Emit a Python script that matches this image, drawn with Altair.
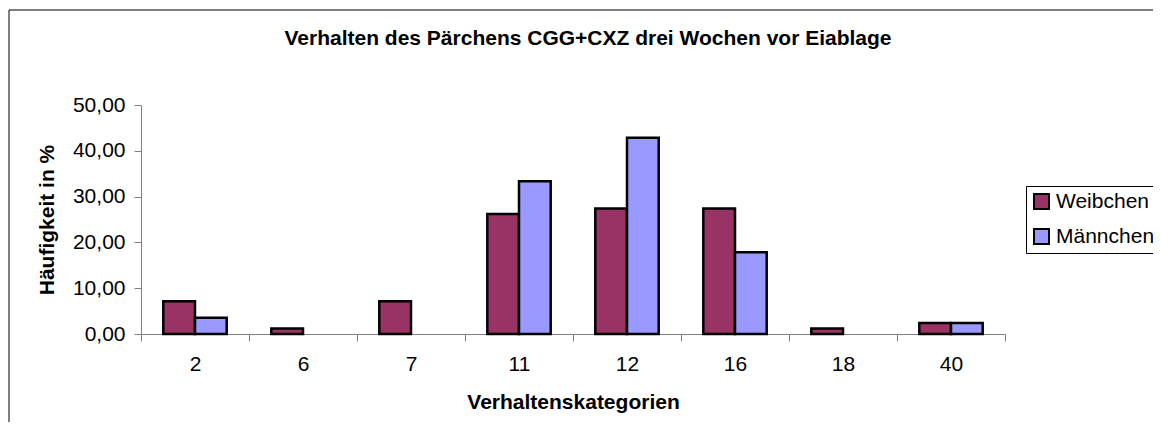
import altair as alt
import pandas as pd

categories = ["2", "6", "7", "11", "12", "16", "18", "40"]
weibchen = [7.14, 1.19, 7.14, 26.19, 27.38, 27.38, 1.19, 2.38]
maennchen = [3.57, 0.0, 0.0, 33.33, 42.86, 17.86, 0.0, 2.38]
series = ["Weibchen", "Männchen"]
colors = ["#993366", "#9999FF"]

rows = []
for c, w, m in zip(categories, weibchen, maennchen):
    rows.append({"kat": c, "serie": "Weibchen", "wert": w})
    rows.append({"kat": c, "serie": "Männchen", "wert": m})
df = pd.DataFrame(rows)

FONT = "Liberation Sans"

bars = alt.Chart(df).transform_filter("datum.wert > 0").mark_bar(
    stroke="black", strokeWidth=2.5
).encode(
    x=alt.X("kat:N", sort=categories,
            scale=alt.Scale(paddingInner=0, paddingOuter=0),
            axis=alt.Axis(title="Verhaltenskategorien", labelAngle=0,
                          tickBand="extent", tickSize=7, labelPadding=12,
                          titlePadding=17)),
    xOffset=alt.XOffset("serie:N", sort=series,
                        scale=alt.Scale(domain=series, paddingOuter=0.7035, paddingInner=0)),
    y=alt.Y("wert:Q", scale=alt.Scale(domain=[0, 50], nice=False),
            axis=alt.Axis(title="Häufigkeit in %", values=[0, 10, 20, 30, 40, 50],
                          labelExpr="replace(format(datum.value, '.2f'), '.', ',')",
                          tickSize=7, labelPadding=9, titlePadding=15, grid=False)),
    color=alt.Color("serie:N", sort=series,
                    scale=alt.Scale(domain=series, range=colors),
                    legend=alt.Legend(title=None, orient="none", legendX=885, legendY=81,
                                      strokeColor="black", fillColor="white", padding=5,
                                      symbolType="square", symbolSize=225,
                                      symbolStrokeColor="black", symbolStrokeWidth=2,
                                      labelFontSize=21, labelFont=FONT, labelOffset=4,
                                      rowPadding=12, symbolOpacity=1)),
)

frame = alt.Chart(pd.DataFrame({"a": [0]})).mark_rect(
    fill=None, stroke="black", strokeWidth=1, clip=False
).encode(
    x=alt.value(-132), x2=alt.value(2000), y=alt.value(-95), y2=alt.value(1000)
)

chart = alt.layer(frame, bars).properties(
    width=864, height=229,
    title=alt.TitleParams("Verhalten des Pärchens CGG+CXZ drei Wochen vor Eiablage",
                          anchor="middle", frame="group", dx=15, offset=0, dy=39,
                          fontSize=21, font=FONT, fontWeight="bold"),
    autosize=alt.AutoSizeParams(type="none"),
    padding={"left": 133, "top": 97, "right": 148, "bottom": 88},
).configure_view(stroke=None).configure_axis(
    labelFont=FONT, titleFont=FONT, labelFontSize=21, titleFontSize=21,
    titleFontWeight="bold", labelColor="black", titleColor="black",
    domainColor="#808080", tickColor="#808080", domainWidth=1, tickWidth=1,
)

chart.save("out.html", embed_options={"renderer": "svg", "actions": False})
